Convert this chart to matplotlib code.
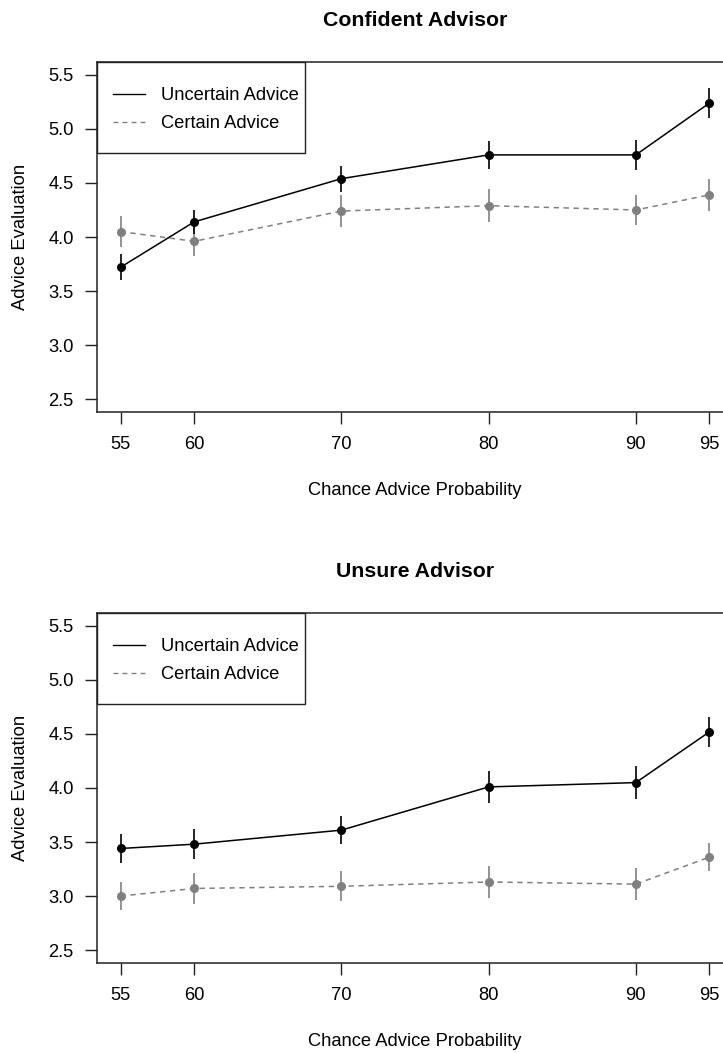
import matplotlib.pyplot as plt
from matplotlib.patches import Rectangle
import numpy as np

plt.rcParams["font.family"] = ["Liberation Sans", "DejaVu Sans"]

# x 축: 확률 조건
probs = [55, 60, 70, 80, 90, 95]

# Confident Advisor
conf_uncertain = [3.72, 4.14, 4.54, 4.76, 4.76, 5.24]
conf_uncertain_err = [0.12, 0.11, 0.12, 0.13, 0.14, 0.14]
conf_certain = [4.05, 3.96, 4.24, 4.29, 4.25, 4.39]
conf_certain_err = [0.14, 0.14, 0.15, 0.15, 0.14, 0.15]

# Unsure Advisor
unsure_uncertain = [3.44, 3.48, 3.61, 4.01, 4.05, 4.52]
unsure_uncertain_err = [0.13, 0.14, 0.13, 0.15, 0.15, 0.14]
unsure_certain = [3.00, 3.07, 3.09, 3.13, 3.11, 3.36]
unsure_certain_err = [0.13, 0.14, 0.14, 0.15, 0.15, 0.13]

yticks = [2.5, 3.0, 3.5, 4.0, 4.5, 5.0, 5.5]
series_labels = ["Uncertain Advice", "Certain Advice"]
GRAY = "#808080"
FS = 13.2


def draw_panel(ax, title, unc, unc_err, cer, cer_err):
    ax.errorbar(probs, unc, yerr=unc_err, color="black", lw=1.1, elinewidth=1.2,
                marker="o", ms=5.5, capsize=0, label=series_labels[0], zorder=3)
    ax.errorbar(probs, cer, yerr=cer_err, color=GRAY, lw=1.1, elinewidth=1.2,
                ls=(0, (3.5, 3)), marker="o", ms=5.5, capsize=0,
                label=series_labels[1], zorder=2)

    ax.set_xlim(53.4, 96.6)
    ax.set_ylim(2.38, 5.62)
    ax.set_xticks(probs)
    ax.set_yticks(yticks)
    ax.set_yticklabels([f"{v:.1f}" for v in yticks])
    ax.tick_params(direction="out", length=8.3, width=1.0, labelsize=FS, color="#222222")
    ax.tick_params(axis="y", pad=8.4)
    ax.tick_params(axis="x", pad=9)
    for sp in ax.spines.values():
        sp.set_linewidth(1.1)
        sp.set_color("#222222")

    ax.set_title(title, fontsize=15.3, fontweight="bold", y=1.104, pad=0)
    ax.set_xlabel("Chance Advice Probability", fontsize=FS)
    ax.xaxis.label.set_va("center")
    ax.xaxis.set_label_coords(0.5, -0.223)
    ax.set_ylabel("Advice Evaluation", fontsize=FS)
    ax.yaxis.label.set_va("center")
    ax.yaxis.set_label_coords(-0.1195, 0.5)

    # 범례 박스 (R 스타일)
    ax.add_patch(Rectangle((0, 0.74), 0.327, 0.26, transform=ax.transAxes,
                           facecolor="white", edgecolor="#222222", lw=1.0,
                           zorder=4, clip_on=False))
    h, l = ax.get_legend_handles_labels()
    handles = [plt.Line2D([], [], color="black", lw=1.0),
               plt.Line2D([], [], color=GRAY, lw=1.0, ls=(0, (3.5, 3)))]
    leg = ax.legend(handles, l, loc="upper left", bbox_to_anchor=(0.0252, 0.928),
                    frameon=False, borderpad=0, borderaxespad=0, fontsize=FS,
                    handlelength=1.75, handletextpad=0.87, labelspacing=0.6)
    leg.set_zorder(5)


fig = plt.figure(figsize=(7.23, 10.53), dpi=100)
ax1 = fig.add_axes([97 / 723, 1 - 412 / 1053, 636 / 723, 350 / 1053])
ax2 = fig.add_axes([97 / 723, 1 - 963 / 1053, 636 / 723, 350 / 1053])

draw_panel(ax1, "Confident Advisor", conf_uncertain, conf_uncertain_err,
           conf_certain, conf_certain_err)
draw_panel(ax2, "Unsure Advisor", unsure_uncertain, unsure_uncertain_err,
           unsure_certain, unsure_certain_err)

fig.savefig("out.png", dpi=100)
plt.close()
